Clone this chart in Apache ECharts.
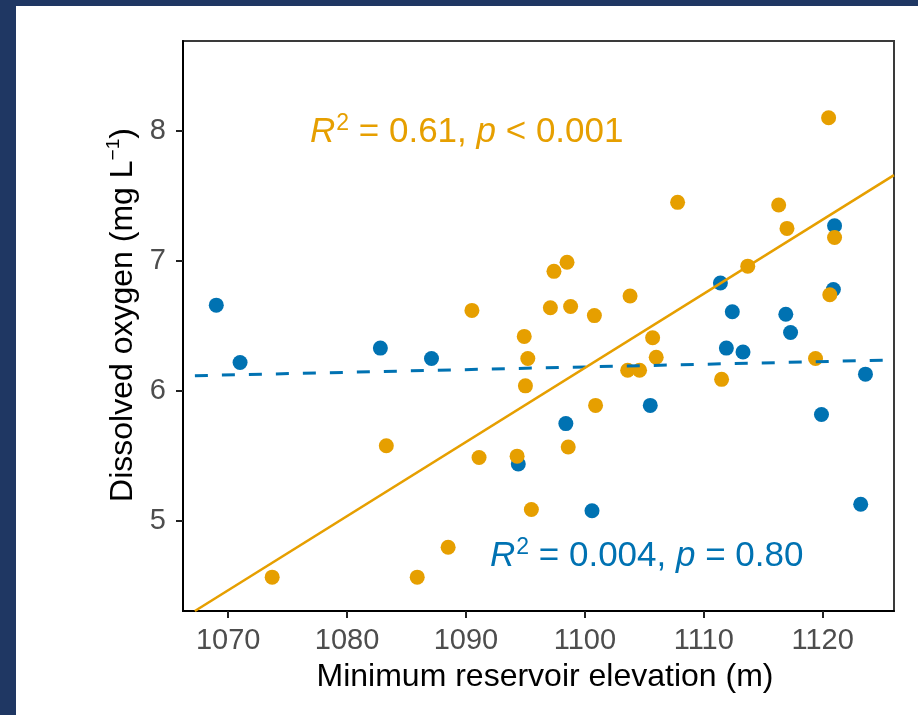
<!DOCTYPE html>
<html><head><meta charset="utf-8">
<script src="https://cdn.jsdelivr.net/npm/echarts@6/dist/echarts.min.js"></script>
<style>
html,body{margin:0;padding:0;width:918px;height:715px;overflow:hidden;background:#1F3763;}
#panel{position:absolute;left:16px;top:6px;right:0;bottom:0;background:#fff;}
#chart{position:absolute;left:0;top:0;width:918px;height:715px;}
</style></head><body>
<div id="panel"></div><div id="chart"></div>
<script>
// ---- data ----
const xTicks = [1070, 1080, 1090, 1100, 1110, 1120];
const yTicks = [5, 6, 7, 8];
const blueX = [1069.0, 1071.0, 1082.8, 1087.1, 1094.4, 1098.4, 1100.6, 1105.5, 1111.4, 1112.4, 1111.9, 1113.3, 1116.9, 1117.3, 1119.9, 1121.0, 1120.9, 1123.6, 1123.2];
const blueY = [6.66, 6.22, 6.33, 6.25, 5.44, 5.75, 5.08, 5.89, 6.83, 6.61, 6.33, 6.30, 6.59, 6.45, 5.82, 7.27, 6.78, 6.13, 5.13];
const orangeX = [1073.7, 1083.3, 1085.9, 1088.5, 1090.5, 1091.1, 1094.3, 1094.9, 1095.2, 1095.0, 1095.5, 1097.1, 1097.4, 1098.5, 1098.6, 1098.8, 1100.8, 1100.9, 1103.6, 1104.6, 1103.8, 1105.7, 1106.0, 1107.8, 1111.5, 1113.7, 1116.3, 1117.0, 1119.4, 1120.5, 1121.0, 1120.6];
const orangeY = [4.57, 5.58, 4.57, 4.80, 6.62, 5.49, 5.50, 6.42, 6.25, 6.04, 5.09, 6.64, 6.92, 6.99, 5.57, 6.65, 6.58, 5.89, 6.16, 6.16, 6.73, 6.41, 6.26, 7.45, 6.09, 6.96, 7.43, 7.25, 6.25, 8.10, 7.18, 6.74];
const orangeFitX = [1067.2, 1126.0];
const orangeFitY = [4.31, 7.66];
const blueFitX = [1067.2, 1126.0];
const blueFitY = [6.118, 6.239];
const xTitle = 'Minimum reservoir elevation (m)';
const orangeLabel = ['0.61', '< 0.001'];
const blueLabel = ['0.004', '= 0.80'];

// ---- styles ----
const ORANGE = '#E69F00';
const BLUE = '#0072B2';
const FONT = '"Liberation Sans", Arial, sans-serif';

const pairs = (xs, ys) => xs.map((x, i) => [x, ys[i]]);

function statRich(color) {
  return {
    i: { fontFamily: FONT, fontSize: 35, fontStyle: 'italic', fill: color, lineHeight: 40 },
    s: { fontFamily: FONT, fontSize: 23, fill: color, verticalAlign: 'top', lineHeight: 40, padding: [0, 0, 0, 1] },
    t: { fontFamily: FONT, fontSize: 35, fill: color, lineHeight: 40 }
  };
}

const chart = echarts.init(document.getElementById('chart'), null, { renderer: 'canvas' });
chart.setOption({
  backgroundColor: 'transparent',
  animation: false,
  grid: { left: 183, top: 41, right: 24, bottom: 104, show: true, borderColor: '#3a3a3a', borderWidth: 2, backgroundColor: '#fff' },
  xAxis: {
    type: 'value', min: 1066.2, max: 1126.0,
    splitLine: { show: false },
    axisLine: { show: true, onZero: false, lineStyle: { color: '#000', width: 2 } },
    axisTick: { show: true, length: 7, lineStyle: { color: '#222', width: 2 }, customValues: xTicks },
    axisLabel: { color: '#4D4D4D', fontSize: 29, fontFamily: FONT, margin: 15, customValues: xTicks,
      formatter: v => String(v) },
    name: xTitle, nameLocation: 'middle', nameGap: 50,
    nameTextStyle: { color: '#000', fontSize: 32, fontFamily: FONT, padding: [0, 0, 0, 13] }
  },
  yAxis: {
    type: 'value', min: 4.31, max: 8.69,
    splitLine: { show: false },
    axisLine: { show: true, onZero: false, lineStyle: { color: '#000', width: 2 } },
    axisTick: { show: true, length: 7, lineStyle: { color: '#222', width: 2 }, customValues: yTicks },
    axisLabel: { color: '#4D4D4D', fontSize: 29, fontFamily: FONT, margin: 17, customValues: yTicks,
      formatter: v => String(v) },
    name: '{a|Dissolved oxygen (mg L}{s|−1}{a|)}', nameLocation: 'middle', nameGap: 40,
    nameTextStyle: {
      color: '#000', fontFamily: FONT, padding: [0, 0, 0, 22],
      rich: {
        a: { fontSize: 32, fontFamily: FONT, color: '#000', lineHeight: 38 },
        s: { fontSize: 19, fontFamily: FONT, color: '#000', verticalAlign: 'top', lineHeight: 38 }
      }
    }
  },
  graphic: [
    { type: 'text', left: 310, top: 112, z: 100,
      style: { text: '{i|R}{s|2}{t| = ' + orangeLabel[0] + ', }{i|p}{t| ' + orangeLabel[1] + '}', rich: statRich(ORANGE) } },
    { type: 'text', left: 490, top: 536, z: 100,
      style: { text: '{i|R}{s|2}{t| = ' + blueLabel[0] + ', }{i|p}{t| ' + blueLabel[1] + '}', rich: statRich(BLUE) } }
  ],
  series: [
    { type: 'scatter', data: pairs(blueX, blueY), symbolSize: 15, itemStyle: { color: BLUE, opacity: 1 }, z: 2 },
    { type: 'scatter', data: pairs(orangeX, orangeY), symbolSize: 15, itemStyle: { color: ORANGE, opacity: 1 }, z: 3 },
    { type: 'line', data: pairs(blueFitX, blueFitY), symbol: 'none', clip: true, z: 4,
      lineStyle: { color: BLUE, width: 3, type: [13, 14] } },
    { type: 'line', data: pairs(orangeFitX, orangeFitY), symbol: 'none', clip: true, z: 5,
      lineStyle: { color: ORANGE, width: 2.6 } }
  ]
});
</script>
</body></html>
